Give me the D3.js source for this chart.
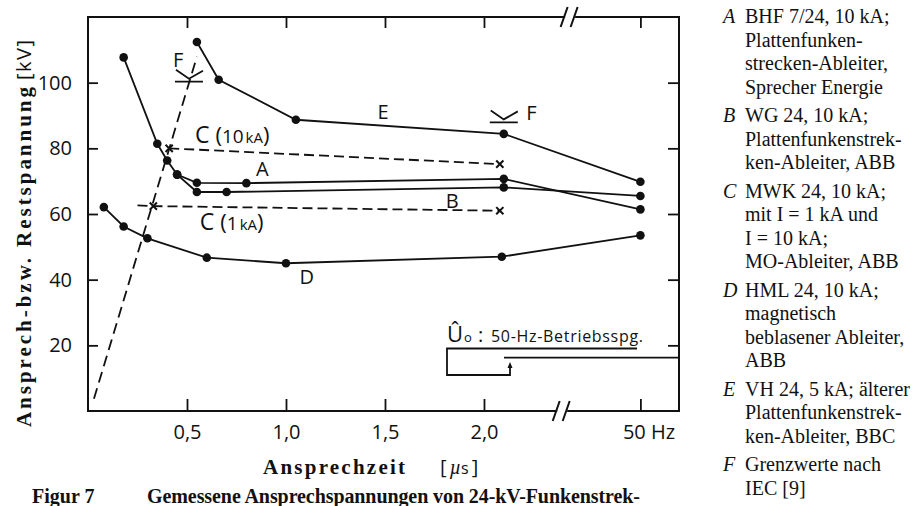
<!DOCTYPE html>
<html>
<head>
<meta charset="utf-8">
<script src="https://cdn.jsdelivr.net/npm/d3@7"></script>
<style>
  body { margin: 0; background: #fff; }
  svg { display: block; }
  .tick text { font-family: 'Open Sans', sans-serif; font-size: 20px; fill: #111; }
  .tick line { stroke: #111; stroke-width: 1.8; }
  .frame { fill: none; stroke: #111; stroke-width: 2; }
  .curve { fill: none; stroke: #111; stroke-width: 1.8; }
  .dashed { stroke-dasharray: 10 5; }
  .dot { fill: #111; }
  .cross { stroke: #111; stroke-width: 2; fill: none; }
  .lbl { font-family: 'Open Sans', sans-serif; fill: #111; }
  .serif { font-family: 'Liberation Serif', 'Times New Roman', serif; fill: #111; }
</style>
</head>
<body>
<svg id="chart" width="919" height="506"></svg>
<script>
// 50 Hz column is drawn after the axis break, at a virtual x position
const HZ = '50Hz';
const HZ_AT = 2.79;

const xTicks = [0.5, 1.0, 1.5, 2.0, HZ_AT];
const yTicks = [20, 40, 60, 80, 100];

// curves: Ansprechzeit [µs] (or 50 Hz) and voltage [kV]
const timesA = [0.18, 0.35, 0.40, 0.45, 0.55, 0.80, 2.10, HZ];
const voltsA = [107.7, 81.4, 76.3, 72.0, 69.5, 69.4, 70.7, 61.4];
const timesB = [0.45, 0.55, 0.70, 2.10, HZ];
const voltsB = [72.0, 66.7, 66.7, 68.1, 65.5];
const timesC10 = [0.41, 2.08];
const voltsC10 = [80.0, 75.2];
const timesC1 = [0.25, 0.33, 2.08];
const voltsC1 = [62.6, 62.4, 61.0];
const marksC1 = [false, true, true];
const timesD = [0.08, 0.18, 0.30, 0.60, 1.00, 2.09, HZ];
const voltsD = [62.1, 56.2, 52.6, 46.7, 45.0, 47.0, 53.5];
const timesE = [0.55, 0.66, 1.05, 2.10, HZ];
const voltsE = [112.4, 100.9, 88.7, 84.4, 69.8];
// IEC limit (F): dashed line and the two limit symbols
const timesF = [0.03, 0.55];
const voltsF = [3.7, 107.9];
const timesFMark = [0.51, 2.10];
const voltsFMark = [100.3, 87.9];

const legendKeys = ['A', 'B', 'C', 'D', 'E', 'F'];
const legendTexts = [
  ['BHF 7/24, 10 kA;', 'Plattenfunken-', 'strecken-Ableiter,', 'Sprecher Energie'],
  ['WG 24, 10 kA;', 'Plattenfunkenstrek-', 'ken-Ableiter, ABB'],
  ['MWK 24, 10 kA;', 'mit I = 1 kA und', 'I = 10 kA;', 'MO-Ableiter, ABB'],
  ['HML 24, 10 kA;', 'magnetisch', 'beblasener Ableiter,', 'ABB'],
  ['VH 24, 5 kA; älterer', 'Plattenfunkenstrek-', 'ken-Ableiter, BBC'],
  ['Grenzwerte nach', 'IEC [9]']
];

const pL = 88, pR = 679, pT = 17, pB = 411;
const x = d3.scaleLinear().domain([0, 2.985]).range([pL, pR]);
const y = d3.scaleLinear().domain([0, 120]).range([pB, pT]);
const xPos = t => t === HZ ? x(HZ_AT) : x(t);

const svg = d3.select('#chart');
const fmt = d => d === HZ_AT ? '50 Hz' : d3.format('.1f')(d).replace('.', ',');

// axes, ticks inward on all four sides
svg.append('g').attr('transform', `translate(${pL},0)`)
  .call(d3.axisLeft(y).tickValues(yTicks).tickSize(-10).tickPadding(16));
svg.append('g').attr('transform', `translate(${pR},0)`)
  .call(d3.axisRight(y).tickValues(yTicks).tickSize(-11).tickFormat(''));
const gBottom = svg.append('g').attr('transform', `translate(0,${pB})`)
  .call(d3.axisBottom(x).tickValues(xTicks).tickSize(-12).tickPadding(14).tickFormat(fmt));
svg.append('g').attr('transform', `translate(0,${pT})`)
  .call(d3.axisTop(x).tickValues(xTicks).tickSize(-11).tickFormat(''));
svg.selectAll('.domain').remove();
gBottom.selectAll('.tick text').filter(d => d === HZ_AT)
  .attr('text-anchor', 'start').attr('x', -18);

// frame with the // breaks
const brkTop = x(2.43), brkBot = x(2.39);
const frame = d3.path();
frame.moveTo(brkTop - 4, pT); frame.lineTo(pL, pT); frame.lineTo(pL, pB); frame.lineTo(brkBot - 4, pB);
frame.moveTo(brkBot + 6, pB); frame.lineTo(pR, pB); frame.lineTo(pR, pT); frame.lineTo(brkTop + 6, pT);
svg.append('path').attr('class', 'frame').attr('d', frame.toString());
[[brkTop, pT], [brkBot, pB]].forEach(([bx, by]) => {
  [-5, 5].forEach(o => {
    svg.append('line').attr('class', 'frame')
      .attr('x1', bx + o - 3.5).attr('y1', by + 10)
      .attr('x2', bx + o + 3.5).attr('y2', by - 10);
  });
});

const line = d3.line().x(d => xPos(d[0])).y(d => y(d[1]));
const zip = (ts, vs) => ts.map((t, i) => [t, vs[i]]);

const gLines = svg.append('g');
const gMarks = svg.append('g');

const solid = [[timesA, voltsA], [timesB, voltsB], [timesD, voltsD], [timesE, voltsE]];
solid.forEach(([ts, vs]) => {
  const pts = zip(ts, vs);
  gLines.append('path').attr('class', 'curve').attr('d', line(pts));
  pts.forEach(p => {
    gMarks.append('circle').attr('class', 'dot')
      .attr('cx', xPos(p[0])).attr('cy', y(p[1])).attr('r', 4.3);
  });
});

const cross = (cx, cy) => {
  const s = 3.6;
  gMarks.append('path').attr('class', 'cross')
    .attr('d', `M${cx - s},${cy - s}L${cx + s},${cy + s}M${cx - s},${cy + s}L${cx + s},${cy - s}`);
};
[[timesC10, voltsC10, null], [timesC1, voltsC1, marksC1]].forEach(([ts, vs, mk]) => {
  const pts = zip(ts, vs);
  gLines.append('path').attr('class', 'curve dashed').attr('d', line(pts));
  pts.forEach((p, i) => { if (!mk || mk[i]) cross(xPos(p[0]), y(p[1])); });
});

gLines.append('path').attr('class', 'curve').attr('stroke-dasharray', '11 6')
  .attr('d', line(zip(timesF, voltsF)));

// IEC limit symbols
zip(timesFMark, voltsFMark).forEach(p => {
  const cx = xPos(p[0]), cy = y(p[1]);
  gMarks.append('path').attr('class', 'curve').attr('stroke-width', 2)
    .attr('d', `M${cx - 13},${cy - 12}L${cx},${cy - 3}L${cx + 14},${cy - 11}M${cx - 14},${cy}L${cx + 14},${cy}`);
});

// curve labels
const gLbl = svg.append('g').attr('class', 'lbl');
const label = (t, v, txt, size) => gLbl.append('text')
  .attr('x', x(t)).attr('y', y(v)).attr('text-anchor', 'middle')
  .attr('font-size', size).text(txt);
label(1.49, 88.9, 'E', 20);
label(0.88, 71.6, 'A', 20);
label(1.84, 61.8, 'B', 20);
label(1.105, 38.7, 'D', 20);
label(0.455, 104.8, 'F', 20);
label(2.24, 88.6, 'F', 20);

const cLabel = (t, v, amp) => {
  const txt = gLbl.append('text').attr('x', x(t)).attr('y', y(v));
  txt.append('tspan').attr('font-size', 23).text('C ');
  txt.append('tspan').attr('font-size', 22).text('(');
  txt.append('tspan').attr('font-size', 19).text(amp);
  txt.append('tspan').attr('font-size', 15).attr('dx', 2).text('kA');
  txt.append('tspan').attr('font-size', 22).text(')');
};
cLabel(0.54, 81.6, '10');
cLabel(0.565, 55.1, '1');

// inset: 50 Hz operating voltage
const ins = svg.append('g');
const insText = ins.append('text').attr('class', 'lbl').attr('x', 447).attr('y', 342);
insText.append('tspan').attr('font-size', 22).text('Û');
insText.append('tspan').attr('font-size', 13).attr('dx', 1).text('o');
insText.append('tspan').attr('font-size', 20).attr('dx', 6).text(':');
insText.append('tspan').attr('font-size', 16).attr('x', 491).attr('textLength', 152).text('50-Hz-Betriebsspg.');
const insPath = d3.path();
insPath.moveTo(637, 348.5); insPath.lineTo(447, 348.5); insPath.lineTo(447, 375); insPath.lineTo(510, 375); insPath.lineTo(510, 366);
insPath.moveTo(504, 357.7); insPath.lineTo(pR, 357.7);
ins.append('path').attr('class', 'curve').attr('stroke-width', 1.6).attr('d', insPath.toString());
ins.append('path').attr('fill', '#111').attr('d', 'M510,362L507.5,368L512.5,368Z');

// axis titles
const yt = svg.append('g').attr('transform', `translate(31,427) rotate(-90)`);
yt.append('text').attr('class', 'serif').attr('font-weight', 'bold').attr('font-size', 21)
  .attr('textLength', 340).attr('lengthAdjust', 'spacing').text('Ansprech-bzw. Restspannung');
svg.append('g').attr('transform', `translate(31,80) rotate(-90)`)
  .append('text').attr('class', 'lbl').attr('font-size', 20)
  .attr('textLength', 40).text('[kV]');

svg.append('text').attr('class', 'serif').attr('font-weight', 'bold').attr('font-size', 21)
  .attr('x', 263).attr('y', 474).attr('textLength', 142).attr('lengthAdjust', 'spacing')
  .text('Ansprechzeit');
const us = svg.append('text').attr('class', 'lbl').attr('font-size', 20).attr('x', 440).attr('y', 474);
us.append('tspan').text('[');
us.append('tspan').attr('class', 'serif').attr('font-style', 'italic').attr('dx', 3).text('µ');
us.append('tspan').attr('font-size', 16).text('s');
us.append('tspan').attr('dx', 3).text(']');

// caption (runs to the bottom edge of the picture)
const cap = svg.append('text').attr('class', 'serif').attr('font-weight', 'bold').attr('font-size', 20).attr('y', 503);
cap.append('tspan').attr('x', 32).text('Figur 7');
cap.append('tspan').attr('x', 147).attr('textLength', 493).text('Gemessene Ansprechspannungen von 24-kV-Funkenstrek-');

// legend
const gLeg = svg.append('g').attr('class', 'serif').attr('font-size', 20);
let ly = 23;
legendKeys.forEach((k, i) => {
  gLeg.append('text').attr('x', 723).attr('y', ly).attr('font-style', 'italic').text(k);
  legendTexts[i].forEach((t, j) => {
    gLeg.append('text').attr('x', 745).attr('y', ly).text(t);
    ly += j < legendTexts[i].length - 1 ? 23.5 : 28.5;
  });
});
</script>
</body>
</html>
